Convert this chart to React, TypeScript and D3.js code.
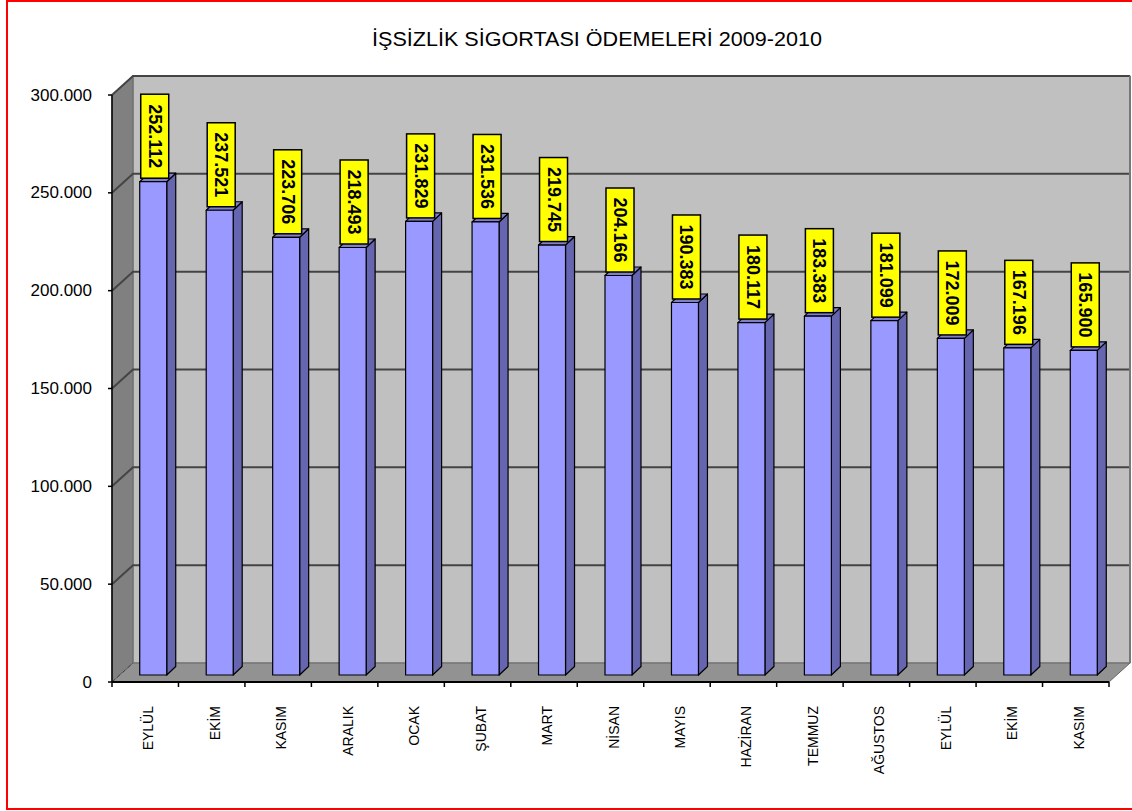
import React from "react";
import * as d3 from "d3";

const title = "İŞSİZLİK SİGORTASI ÖDEMELERİ 2009-2010";
const categories = ["EYLÜL", "EKİM", "KASIM", "ARALIK", "OCAK", "ŞUBAT", "MART", "NİSAN", "MAYIS", "HAZİRAN", "TEMMUZ", "AĞUSTOS", "EYLÜL", "EKİM", "KASIM"];
const values = [252112, 237521, 223706, 218493, 231829, 231536, 219745, 204166, 190383, 180117, 183383, 181099, 172009, 167196, 165900];
const yTicks = [0, 50000, 100000, 150000, 200000, 250000, 300000];

const locale = d3.formatLocale({ decimal: ",", thousands: ".", grouping: [3], currency: ["", ""] });
const fmt = locale.format(",");

const W = 1132, H = 811;
const DX = 21, DY = -19; // wall depth
const BOX = 8, BOY = -7; // bar front offset into depth
const BDX = 9, BDY = -8.5; // bar depth
const BW = 27;

export default function App() {
  const x = d3.scaleBand<number>().domain(categories.map((_, i) => i)).range([112, 1109]).padding(0);
  const y = d3.scaleLinear().domain([0, 300000]).range([682, 95]);
  const y0 = y(0), yTop = y(300000);
  const xL = 112, xR = 1109;
  const font = "'Liberation Sans', Arial, sans-serif";

  return (
    <svg width={W} height={H} style={{ position: "absolute", left: 0, top: 0, background: "#fff" }} fontFamily={font}>
      <rect x={7} y={1} width={1135} height={808} fill="#fff" stroke="#ff0000" strokeWidth={2} />
      <text x={597} y={46} textAnchor="middle" fontSize={20} textLength={450} lengthAdjust="spacingAndGlyphs" fill="#000">{title}</text>

      {/* back wall */}
      <rect x={xL + DX} y={yTop + DY} width={xR - xL} height={y0 - yTop} fill="#c0c0c0" stroke="#7a7a7a" strokeWidth={1} />
      {/* side wall */}
      <polygon points={`${xL},${yTop} ${xL + DX},${yTop + DY} ${xL + DX},${y0 + DY} ${xL},${y0}`} fill="#808080" stroke="#666" strokeWidth={1} />
      {/* floor */}
      <polygon points={`${xL},${y0} ${xL + DX},${y0 + DY} ${xR + DX},${y0 + DY} ${xR},${y0}`} fill="#929292" stroke="#666" strokeWidth={1} />

      {/* gridlines */}
      {yTicks.filter(t => t > 0).map(t => (
        <g key={"g" + t}>
          <polyline points={`${xL},${y(t)} ${xL + DX},${y(t) + DY} ${xR + DX},${y(t) + DY}`} fill="none" stroke="#444" strokeWidth={2} />
        </g>
      ))}
      <polyline points={`${xL},${y0} ${xL + DX},${y0 + DY}`} stroke="#444" strokeWidth={1} strokeDasharray="4,3" fill="none" />
      <line x1={xR + DX} y1={yTop + DY} x2={xR + DX} y2={y0 + DY} stroke="#777" strokeWidth={2} />

      {/* bars */}
      {values.map((v, i) => {
        const cx = (x(i) as number) + x.bandwidth() / 2 + BOX;
        const l = cx - BW / 2, r = cx + BW / 2;
        const b = y0 + BOY, t = y(v) + BOY;
        return (
          <g key={"b" + i} stroke="#000" strokeWidth={1.2} strokeLinejoin="round">
            <polygon points={`${r},${t} ${r + BDX},${t + BDY} ${r + BDX},${b + BDY} ${r},${b}`} fill="#6666b0" />
            <polygon points={`${l},${t} ${l + BDX},${t + BDY} ${r + BDX},${t + BDY} ${r},${t}`} fill="#7f7fcc" />
            <rect x={l} y={t} width={BW} height={b - t} fill="#9999ff" />
          </g>
        );
      })}

      {/* axes */}
      <line x1={xL} y1={yTop} x2={xL} y2={y0} stroke="#000" strokeWidth={1.5} />
      <line x1={xL} y1={y0} x2={xR} y2={y0} stroke="#000" strokeWidth={2} />
      {yTicks.map(t => (
        <g key={"yt" + t}>
          <line x1={xL - 4} y1={y(t)} x2={xL} y2={y(t)} stroke="#000" strokeWidth={1.5} />
          <text x={92} y={y(t) + 5.5} textAnchor="end" fontSize={17} fill="#000">{fmt(t)}</text>
        </g>
      ))}
      {categories.map((_, i) => (
        <line key={"xt" + i} x1={x(i) as number} y1={y0} x2={x(i) as number} y2={y0 + 5} stroke="#000" strokeWidth={1.5} />
      ))}
      <line x1={xR} y1={y0} x2={xR} y2={y0 + 5} stroke="#000" strokeWidth={1.5} />
      {categories.map((c, i) => {
        const cx = (x(i) as number) + x.bandwidth() / 2 + 8;
        return (
          <text key={"xl" + i} transform={`translate(${cx},706) rotate(-90)`} textAnchor="end" fontSize={14} fill="#000">{c}</text>
        );
      })}

      {/* value labels */}
      {values.map((v, i) => {
        const cx = (x(i) as number) + x.bandwidth() / 2 + BOX + 1.5;
        const bottom = y(v) + BOY - 3.5;
        const h = 84, w = 28;
        return (
          <g key={"v" + i}>
            <rect x={cx - w / 2} y={bottom - h} width={w} height={h} fill="#ffff00" stroke="#000" strokeWidth={1.5} />
            <text transform={`translate(${cx},${bottom - h / 2}) rotate(90)`} textAnchor="middle" dominantBaseline="central" fontSize={18} fontWeight="bold" fill="#000">{fmt(v)}</text>
          </g>
        );
      })}
    </svg>
  );
}
